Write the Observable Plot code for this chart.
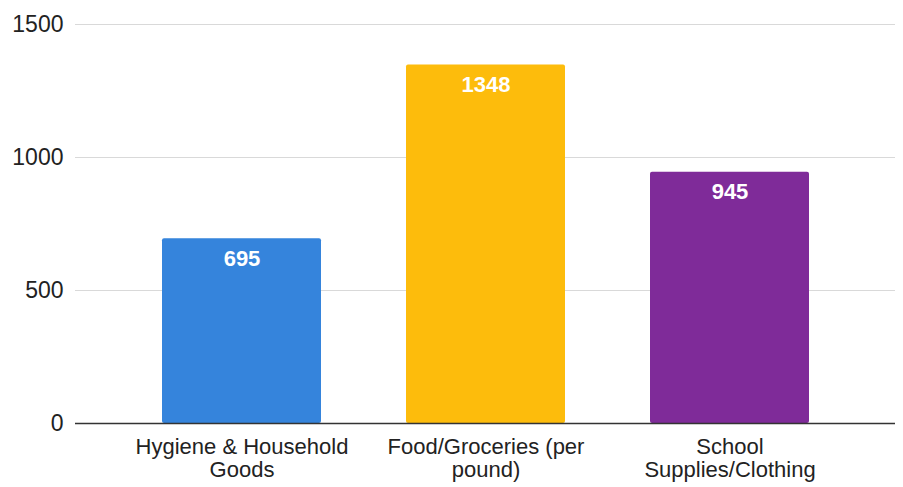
<!DOCTYPE html>
<html>
<head>
<meta charset="utf-8">
<script src="https://cdn.jsdelivr.net/npm/d3@7"></script>
<script src="https://cdn.jsdelivr.net/npm/@observablehq/plot@0.6"></script>
<style>
  html, body { margin: 0; padding: 0; background: #fff; }
</style>
</head>
<body>
<div id="chart"></div>
<script>
const categories = ["Hygiene & Household Goods", "Food/Groceries (per pound)", "School Supplies/Clothing"];
const tickLabels = ["Hygiene & Household\nGoods", "Food/Groceries (per\npound)", "School\nSupplies/Clothing"];
const values = [695, 1348, 945];
const barColors = ["#3584dc", "#fdbc0c", "#7f2b99"];
const yTicks = [0, 500, 1000, 1500];

const data = categories.map((c, i) => ({category: c, value: values[i]}));

const chart = Plot.plot({
  width: 903,
  height: 487,
  marginTop: 24,
  marginBottom: 64,
  marginLeft: 75,
  marginRight: 8,
  style: {fontFamily: "'Liberation Sans', Arial, sans-serif", fontSize: "22px", color: "#222", background: "#fff"},
  x: {domain: categories, paddingInner: 0.35, paddingOuter: 0.35, align: 0.5, label: null},
  y: {domain: [0, 1500], label: null},
  color: {domain: categories, range: barColors},
  marks: [
    Plot.gridY(yTicks, {stroke: "#d9d9d9", strokeOpacity: 1}),
    Plot.barY(data, {x: "category", y: "value", fill: "category", rx: 2}),
    Plot.ruleY([0], {stroke: "#333", strokeWidth: 1.5}),
    Plot.text(data, {x: "category", y: "value", text: d => String(d.value), dy: 20, fill: "white", fontWeight: "bold", fontSize: 22}),
    Plot.axisY({ticks: yTicks, tickSize: 0, tickPadding: 12, fontSize: 23, label: null, tickFormat: d => String(d)}),
    Plot.axisX({tickSize: 0, tickPadding: 14, fontSize: 22, lineHeight: 1.06, label: null,
      tickFormat: d => tickLabels[categories.indexOf(d)]})
  ]
});
document.getElementById("chart").appendChild(chart);
</script>
</body>
</html>
